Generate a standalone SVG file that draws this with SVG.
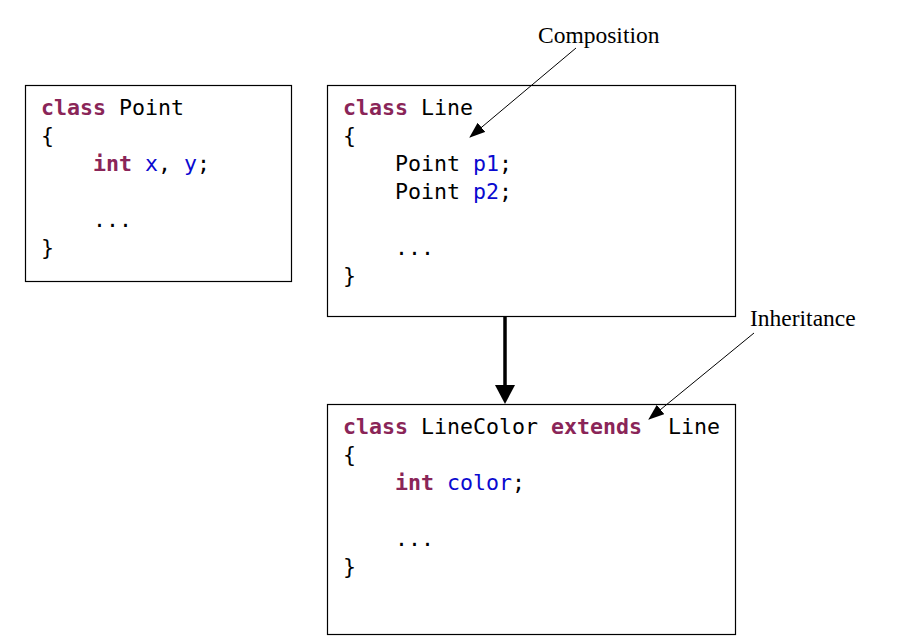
<svg xmlns="http://www.w3.org/2000/svg" width="900" height="642" viewBox="0 0 900 642">
<style>
.box{fill:#fff;stroke:#000;stroke-width:1.2}
.code{font-family:"DejaVu Sans Mono","Liberation Mono",monospace;font-size:21.6px;fill:#000}
.kw{fill:#8A2558;font-weight:bold}
.id{fill:#0A0AD0}
.lbl{font-family:"Liberation Serif","Times New Roman",serif;font-size:23.5px;fill:#000}
.thin{stroke:#000;stroke-width:1;fill:none}
</style>
<defs>
<marker id="ah" markerWidth="16" markerHeight="12" refX="15" refY="6" orient="auto" markerUnits="userSpaceOnUse">
<path d="M0,0 L16,6 L0,12 Z" fill="#000"/>
</marker>
</defs>
<rect width="900" height="642" fill="#fff"/>
<g id="point">
<rect class="box" x="25.5" y="85.5" width="266" height="196"/>
<text class="code" xml:space="preserve"><tspan x="41" y="115"><tspan class="kw">class</tspan> Point</tspan><tspan x="41" y="143">{</tspan><tspan x="93" y="171"><tspan class="kw">int</tspan> <tspan class="id">x</tspan>, <tspan class="id">y</tspan>;</tspan><tspan x="93" y="227">...</tspan><tspan x="41" y="255">}</tspan></text>
</g>
<g id="line">
<rect class="box" x="327.5" y="85.5" width="408" height="231"/>
<text class="code" xml:space="preserve"><tspan x="343" y="115"><tspan class="kw">class</tspan> Line</tspan><tspan x="343" y="143">{</tspan><tspan x="395" y="171">Point <tspan class="id">p1</tspan>;</tspan><tspan x="395" y="199">Point <tspan class="id">p2</tspan>;</tspan><tspan x="395" y="255">...</tspan><tspan x="343" y="283">}</tspan></text>
</g>
<g id="linecolor">
<rect class="box" x="327.5" y="404.5" width="408" height="230"/>
<text class="code" xml:space="preserve"><tspan x="343" y="434"><tspan class="kw">class</tspan> LineColor <tspan class="kw">extends</tspan>  Line</tspan><tspan x="343" y="462">{</tspan><tspan x="395" y="490"><tspan class="kw">int</tspan> <tspan class="id">color</tspan>;</tspan><tspan x="395" y="546">...</tspan><tspan x="343" y="574">}</tspan></text>
</g>
<g id="labels">
<text class="lbl" x="538" y="43">Composition</text>
<text class="lbl" x="750" y="326">Inheritance</text>
</g>
<g id="connectors">
<line class="thin" x1="576" y1="48" x2="470" y2="137" marker-end="url(#ah)"/>
<line class="thin" x1="754" y1="333" x2="649" y2="419" marker-end="url(#ah)"/>
<line x1="505" y1="317" x2="505" y2="388" stroke="#000" stroke-width="3.5"/>
<path d="M495,385 L515,385 L505,404 Z" fill="#000"/>
</g>
</svg>
